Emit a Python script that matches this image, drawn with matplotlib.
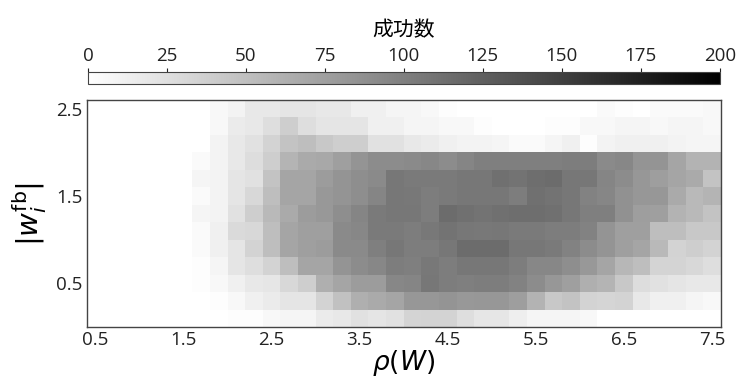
import numpy as np
import matplotlib
matplotlib.use('Agg')
import matplotlib.pyplot as plt
from matplotlib.colors import LinearSegmentedColormap

plt.rcParams['font.family'] = ['Open Sans', 'Noto Sans CJK JP', 'DejaVu Sans']
plt.rcParams['mathtext.fontset'] = 'dejavusans'

# bin centres of the 2D histogram
rho_centers = np.round(np.arange(36) * 0.2 + 0.5, 1)      # 0.5 ... 7.5
w_centers = np.round(np.arange(13) * 0.2 + 0.1, 1)        # 0.1 ... 2.5

x_ticks = [0.5, 1.5, 2.5, 3.5, 4.5, 5.5, 6.5, 7.5]
y_ticks = [0.5, 1.5, 2.5]
cbar_ticks = [0, 25, 50, 75, 100, 125, 150, 175, 200]

# success counts, top row (|w|=2.5) first, columns rho=0.5 ... 7.5
success_counts = [
    [0, 0, 0, 0, 0, 0, 0, 6, 10, 18, 18, 21, 21, 18, 18, 12, 12, 8, 8, 6, 2, 0, 0, 0, 0, 0, 0, 0, 0, 4, 2, 0, 4, 4, 4, 6],
    [0, 0, 0, 0, 0, 0, 0, 6, 16, 18, 26, 39, 26, 21, 21, 21, 12, 12, 8, 8, 6, 6, 2, 0, 0, 0, 2, 2, 6, 6, 8, 8, 6, 8, 8, 6],
    [0, 0, 0, 0, 0, 0, 0, 10, 18, 24, 35, 47, 51, 43, 39, 39, 24, 24, 18, 16, 12, 10, 10, 8, 4, 4, 8, 12, 2, 10, 12, 12, 12, 10, 8, 8],
    [0, 0, 0, 0, 0, 0, 4, 10, 18, 27, 39, 59, 67, 68, 75, 84, 90, 90, 92, 94, 90, 96, 100, 100, 100, 100, 100, 102, 102, 92, 94, 84, 84, 71, 60, 60],
    [0, 0, 0, 0, 0, 0, 8, 10, 21, 24, 47, 71, 71, 78, 84, 89, 92, 107, 104, 104, 104, 107, 107, 112, 110, 114, 115, 107, 107, 96, 90, 82, 76, 71, 67, 47],
    [0, 0, 0, 0, 0, 0, 4, 10, 21, 31, 51, 71, 71, 81, 84, 89, 96, 107, 106, 102, 104, 107, 107, 107, 102, 112, 110, 107, 98, 95, 86, 82, 82, 67, 55, 59],
    [0, 0, 0, 0, 0, 0, 8, 10, 24, 39, 55, 67, 78, 81, 89, 96, 104, 107, 107, 102, 115, 112, 110, 112, 114, 114, 112, 107, 100, 100, 86, 76, 75, 60, 55, 47],
    [0, 0, 0, 0, 0, 0, 4, 12, 29, 31, 51, 71, 75, 75, 92, 94, 104, 104, 102, 106, 110, 107, 106, 107, 104, 104, 102, 102, 98, 84, 75, 75, 51, 51, 43, 43],
    [0, 0, 0, 0, 0, 0, 4, 12, 21, 35, 51, 71, 75, 78, 92, 92, 100, 107, 102, 102, 107, 115, 115, 115, 107, 107, 104, 98, 90, 84, 75, 71, 55, 35, 39, 35],
    [0, 0, 0, 0, 0, 0, 2, 8, 21, 26, 35, 51, 71, 71, 84, 90, 94, 102, 100, 106, 102, 107, 107, 107, 102, 94, 94, 89, 81, 71, 57, 51, 34, 34, 31, 26],
    [0, 0, 0, 0, 0, 0, 2, 6, 12, 18, 20, 31, 39, 63, 71, 78, 78, 94, 96, 107, 102, 100, 102, 102, 98, 90, 82, 75, 63, 59, 43, 27, 24, 21, 18, 18],
    [0, 0, 0, 0, 0, 0, 0, 2, 6, 12, 16, 21, 21, 35, 49, 63, 67, 71, 82, 82, 84, 81, 82, 82, 76, 60, 43, 47, 35, 33, 35, 18, 12, 12, 8, 6],
    [0, 0, 0, 0, 0, 0, 0, 0, 2, 2, 6, 8, 8, 16, 18, 24, 21, 24, 34, 35, 35, 26, 20, 20, 14, 8, 8, 8, 6, 0, 0, 0, 0, 0, 0, 0],
]

counts = np.array(success_counts[::-1], dtype=float)   # bottom row first

# cell edges from the centres
dx = rho_centers[1] - rho_centers[0]
dy = w_centers[1] - w_centers[0]
x_edges = np.append(rho_centers - dx / 2, rho_centers[-1] + dx / 2)
y_edges = np.append(w_centers - dy / 2, w_centers[-1] + dy / 2)

cmap = LinearSegmentedColormap.from_list('wb', ['#ffffff', '#000000'])

fig = plt.figure(figsize=(7.39, 3.83), dpi=100)
ax = fig.add_axes([0.1173, 0.146, 0.858, 0.593])
mesh = ax.pcolormesh(x_edges, y_edges, counts, cmap=cmap, vmin=0, vmax=200)
ax.set_xlim(x_edges[0], x_edges[-1])
ax.set_ylim(y_edges[0], y_edges[-1])
ax.set_xticks(x_ticks)
ax.set_yticks(y_ticks)
ax.tick_params(length=0, labelsize=13.5, pad=3, colors='#222222')
for s in ax.spines.values():
    s.set_color('#444444')
    s.set_linewidth(1.0)
ax.set_xlabel(r'$\rho(W)$', fontsize=19, labelpad=-1)
ax.set_ylabel(r'$|w_i^{\mathrm{fb}}|$', fontsize=21, labelpad=5)

cax = fig.add_axes([0.119, 0.781, 0.855, 0.031])
cb = fig.colorbar(mesh, cax=cax, orientation='horizontal', ticks=cbar_ticks)
cax.xaxis.set_ticks_position('top')
cax.xaxis.set_label_position('top')
cax.tick_params(length=3, width=0.8, labelsize=13.5, pad=2, colors='#222222')
cb.outline.set_edgecolor('#444444')
cb.outline.set_linewidth(0.8)
cb.set_label('成功数', fontsize=15, labelpad=8)

fig.savefig('out.png', dpi=100)
